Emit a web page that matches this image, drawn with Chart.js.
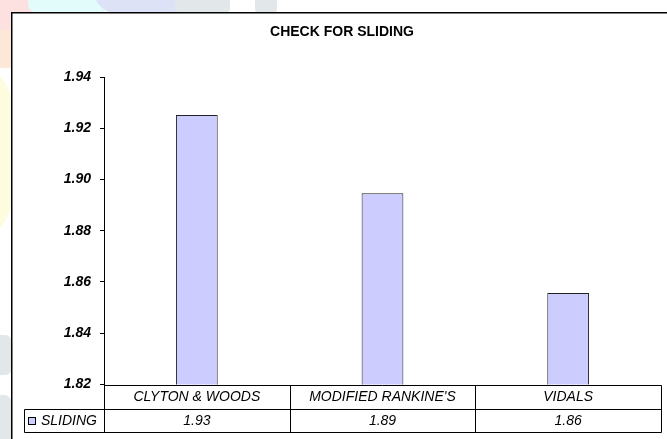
<!DOCTYPE html>
<html>
<head>
<meta charset="utf-8">
<script src="https://cdn.jsdelivr.net/npm/chart.js@4"></script>
<style>
  html, body { margin: 0; padding: 0; background: #fff; }
  #wrap { position: relative; width: 667px; height: 439px; overflow: hidden; }
  .blob { position: absolute; }
  canvas { position: absolute; left: 0; top: 0; }
</style>
</head>
<body>
<div id="wrap">
  <div class="blob" style="left:-40px;top:-40px;width:80px;height:80px;border-radius:50%;background:#fde0e0"></div>
  <div class="blob" style="left:28px;top:-20px;width:80px;height:40px;border-radius:40%;background:#e2fcfc"></div>
  <div class="blob" style="left:95px;top:-30px;width:100px;height:50px;border-radius:50%;background:#dde2f6"></div>
  <div class="blob" style="left:175px;top:-10px;width:55px;height:30px;border-radius:40%;background:#e2e7ea"></div>
  <div class="blob" style="left:255px;top:-10px;width:22px;height:30px;border-radius:40%;background:#e2e7ea"></div>
  <div class="blob" style="left:-10px;top:30px;width:30px;height:38px;border-radius:40%;background:#fde8d8"></div>
  <div class="blob" style="left:-40px;top:72px;width:60px;height:160px;border-radius:50%;background:#fefcdf"></div>
  <div class="blob" style="left:-10px;top:335px;width:25px;height:40px;border-radius:40%;background:#e2e7ea"></div>
  <div class="blob" style="left:-10px;top:395px;width:25px;height:60px;border-radius:40%;background:#e2e7ea"></div>
  <canvas id="c" width="667" height="439"></canvas>
</div>
<script>
const categories = ["CLYTON & WOODS", "MODIFIED RANKINE'S", "VIDALS"];
const slidingValues = [1.9252, 1.8946, 1.8557];
const seriesName = "SLIDING";
const chartTitle = "CHECK FOR SLIDING";
const yMin = 1.82, yMax = 1.94, yStep = 0.02;

const FONT = "'Liberation Sans', Arial, sans-serif";
const BAR_FILL = "#CCCCFF";
const BAR_EDGE = "#222222";

const framePlugin = {
  id: 'frame',
  beforeDraw(chart) {
    const ctx = chart.ctx;
    ctx.save();
    ctx.fillStyle = '#ffffff';
    ctx.fillRect(11, 12, 700, 500);
    ctx.strokeStyle = '#000';
    ctx.lineWidth = 1.5;
    ctx.beginPath();
    ctx.moveTo(11.75, 460);
    ctx.lineTo(11.75, 12.75);
    ctx.lineTo(700, 12.75);
    ctx.stroke();
    // title
    ctx.fillStyle = '#000';
    ctx.font = "bold 14px " + FONT;
    ctx.textAlign = 'center';
    ctx.textBaseline = 'middle';
    ctx.fillText(chartTitle, 342, 32.5);
    ctx.restore();
  }
};

const tablePlugin = {
  id: 'datatable',
  afterDraw(chart) {
    const ctx = chart.ctx;
    const ca = chart.chartArea;
    const x = chart.scales.x;
    const n = categories.length;
    const top = ca.bottom;
    const r1 = top + 24.5;
    const r2 = r1 + 23;
    const legendLeft = 24;
    const bounds = [ca.left];
    for (let i = 0; i < n - 1; i++) {
      bounds.push((x.getPixelForValue(i) + x.getPixelForValue(i + 1)) / 2);
    }
    bounds.push(ca.right);
    const p = v => Math.round(v) + 0.5;
    ctx.save();
    ctx.strokeStyle = '#000';
    ctx.lineWidth = 1;
    ctx.beginPath();
    ctx.moveTo(ca.left, p(top)); ctx.lineTo(p(ca.right), p(top));
    ctx.moveTo(p(legendLeft), p(r1)); ctx.lineTo(p(ca.right), p(r1));
    ctx.moveTo(p(legendLeft), p(r2)); ctx.lineTo(p(ca.right), p(r2));
    bounds.forEach(b => { ctx.moveTo(p(b), p(top)); ctx.lineTo(p(b), p(r2)); });
    ctx.moveTo(p(legendLeft), p(r1)); ctx.lineTo(p(legendLeft), p(r2));
    ctx.stroke();

    ctx.fillStyle = '#000';
    ctx.font = "italic 14px " + FONT;
    ctx.textAlign = 'center';
    ctx.textBaseline = 'middle';
    const m1 = (top + r1) / 2 + 0.5, m2 = (r1 + r2) / 2 + 0.5;
    for (let i = 0; i < n; i++) {
      const cx = (bounds[i] + bounds[i + 1]) / 2;
      ctx.fillText(categories[i], cx, m1);
      ctx.fillText(slidingValues[i].toFixed(2), cx, m2);
    }
    // legend key
    const ky = Math.round(m2 - 4);
    ctx.fillStyle = BAR_FILL;
    ctx.fillRect(28, ky, 7, 7);
    ctx.strokeStyle = '#000';
    ctx.strokeRect(28.5, ky + 0.5, 7, 7);
    ctx.fillStyle = '#000';
    ctx.textAlign = 'left';
    ctx.fillText(seriesName, 41, m2);
    ctx.restore();
  }
};

new Chart(document.getElementById('c'), {
  type: 'bar',
  data: {
    labels: categories,
    datasets: [{
      label: seriesName,
      data: slidingValues,
      backgroundColor: BAR_FILL,
      borderColor: BAR_EDGE,
      borderWidth: 1,
      borderSkipped: 'bottom',
      categoryPercentage: 1,
      barPercentage: 0.225
    }]
  },
  options: {
    responsive: false,
    animation: false,
    devicePixelRatio: 1,
    layout: { padding: { left: 0, right: 6, top: 77, bottom: 54.5 } },
    plugins: {
      legend: { display: false },
      title: { display: false },
      tooltip: { enabled: false }
    },
    scales: {
      x: { display: false },
      y: {
        min: yMin,
        max: yMax,
        afterFit(scale) { scale.width = 104; },
        ticks: {
          stepSize: yStep,
          padding: 9,
          color: '#000',
          font: { family: FONT, size: 14, style: 'italic', weight: 'bold' },
          callback: v => Number(v).toFixed(2)
        },
        grid: { drawOnChartArea: false, drawTicks: true, tickLength: 4, color: '#000' },
        border: { display: true, color: '#000', width: 1 }
      }
    }
  },
  plugins: [framePlugin, tablePlugin]
});
</script>
</body>
</html>
